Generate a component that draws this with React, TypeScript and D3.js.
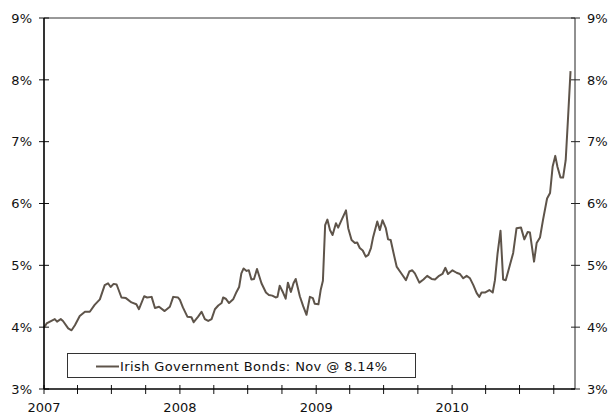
import React from "react";
import * as d3 from "d3";

const dates: string[] = [
  "2007-01-01","2007-01-08","2007-01-17","2007-01-30","2007-02-05","2007-02-15","2007-02-21","2007-03-07","2007-03-16","2007-03-25",
  "2007-04-07","2007-04-21","2007-05-04","2007-05-17","2007-05-31","2007-06-13","2007-06-22","2007-06-29","2007-07-07","2007-07-15",
  "2007-07-28","2007-08-09","2007-08-24","2007-09-06","2007-09-13","2007-09-27","2007-10-05","2007-10-17","2007-10-26","2007-11-06",
  "2007-11-21","2007-12-05","2007-12-14","2007-12-27",
  "2008-01-01","2008-01-09","2008-01-21","2008-02-01","2008-02-07","2008-02-19","2008-02-28","2008-03-08","2008-03-17","2008-03-26",
  "2008-04-04","2008-04-13","2008-04-22","2008-04-26","2008-05-03","2008-05-12","2008-05-23","2008-06-01","2008-06-08","2008-06-14",
  "2008-06-20","2008-06-28","2008-07-04","2008-07-11","2008-07-18","2008-07-26","2008-08-07","2008-08-19","2008-08-27","2008-09-05",
  "2008-09-14","2008-09-19","2008-09-25","2008-10-04","2008-10-11","2008-10-17","2008-10-25","2008-11-01","2008-11-07","2008-11-18",
  "2008-11-27","2008-12-06","2008-12-15","2008-12-23","2008-12-28",
  "2009-01-07","2009-01-13","2009-01-19","2009-01-25","2009-01-31","2009-02-07","2009-02-14","2009-02-23","2009-03-01","2009-03-10",
  "2009-03-22","2009-03-28","2009-04-06","2009-04-15","2009-04-21","2009-04-28","2009-05-06","2009-05-14","2009-05-21","2009-05-28",
  "2009-06-03","2009-06-14","2009-06-21","2009-06-28","2009-07-07","2009-07-13","2009-07-20","2009-07-28","2009-08-05","2009-08-14",
  "2009-08-21","2009-08-30","2009-09-08","2009-09-16","2009-09-23","2009-10-05","2009-10-16","2009-10-26","2009-11-07","2009-11-16",
  "2009-11-27","2009-12-06","2009-12-14","2009-12-21",
  "2010-01-02","2010-01-13","2010-01-22","2010-01-31","2010-02-09","2010-02-18","2010-02-27","2010-03-08","2010-03-15","2010-03-21",
  "2010-03-30","2010-04-11","2010-04-20","2010-04-26","2010-05-03","2010-05-11","2010-05-18","2010-05-25","2010-06-05","2010-06-14",
  "2010-06-23","2010-07-05","2010-07-14","2010-07-23","2010-07-29","2010-08-09","2010-08-16","2010-08-25","2010-09-02","2010-09-13",
  "2010-09-21","2010-09-28","2010-10-05","2010-10-11","2010-10-19","2010-10-26","2010-11-02","2010-11-08","2010-11-15",
];

const yields: number[] = [
  3.99,4.06,4.09,4.13,4.09,4.13,4.10,3.98,3.95,4.03,
  4.18,4.25,4.25,4.36,4.45,4.68,4.71,4.65,4.70,4.69,
  4.48,4.47,4.40,4.37,4.29,4.50,4.48,4.49,4.31,4.33,
  4.26,4.33,4.49,4.48,
  4.44,4.32,4.17,4.16,4.08,4.17,4.25,4.13,4.10,4.13,
  4.29,4.35,4.39,4.48,4.46,4.39,4.45,4.57,4.65,4.87,
  4.95,4.91,4.92,4.77,4.78,4.94,4.71,4.56,4.52,4.51,
  4.48,4.49,4.67,4.56,4.46,4.72,4.57,4.71,4.78,4.50,
  4.34,4.20,4.49,4.47,4.38,
  4.37,4.60,4.75,5.65,5.74,5.57,5.49,5.68,5.61,5.73,
  5.89,5.60,5.41,5.36,5.37,5.28,5.24,5.14,5.17,5.28,
  5.46,5.71,5.57,5.73,5.60,5.42,5.41,5.19,4.98,4.90,
  4.84,4.76,4.90,4.92,4.87,4.72,4.77,4.83,4.78,4.77,
  4.83,4.86,4.96,4.86,
  4.92,4.88,4.86,4.79,4.83,4.79,4.68,4.55,4.49,4.56,
  4.56,4.60,4.56,4.76,5.19,5.56,4.77,4.76,5.00,5.20,
  5.60,5.61,5.42,5.54,5.53,5.06,5.36,5.45,5.73,6.08,
  6.17,6.60,6.77,6.59,6.42,6.42,6.70,7.35,8.14,
];

const yTicks: number[] = [3, 4, 5, 6, 7, 8, 9];
const yearLabels: string[] = ["2007", "2008", "2009", "2010"];
const domainStart = "2007-01-01";
const domainEnd = "2010-11-27";
const legendText = "Irish Government Bonds: Nov @ 8.14%";

const W = 611;
const H = 415;
const M = { left: 44, right: 575, top: 18, bottom: 389 };
const FONT = "'DejaVu Sans', Verdana, sans-serif";
const LINE = "#5e544a";

export default function App() {
  const parse = d3.timeParse("%Y-%m-%d");
  const x = d3
    .scaleTime()
    .domain([parse(domainStart)!, parse(domainEnd)!])
    .range([M.left, M.right]);
  const y = d3.scaleLinear().domain([3, 9]).range([M.bottom, M.top]);

  const data = dates.map((d, i) => ({ date: parse(d)!, v: yields[i] }));
  const line = d3
    .line<{ date: Date; v: number }>()
    .x((d) => x(d.date))
    .y((d) => y(d.v));

  const quarterTicks = d3.timeMonth
    .every(3)!
    .range(parse(domainStart)!, parse(domainEnd)!);

  return (
    <div style={{ position: "absolute", left: 0, top: 0 }}>
      <svg width={W} height={H} style={{ display: "block" }} fontFamily={FONT}>
        <rect x={0} y={0} width={W} height={H} fill="#fff" />
        {/* top frame */}
        <line x1={M.left} x2={M.right} y1={M.top} y2={M.top} stroke="#333" strokeWidth={1} />
        {/* right axis */}
        <line x1={M.right} x2={M.right} y1={M.top} y2={M.bottom} stroke="#222" strokeWidth={1} />
        {yTicks.map((t) => (
          <g key={"r" + t}>
            <line x1={M.right - 4} x2={M.right + 5} y1={y(t)} y2={y(t)} stroke="#222" strokeWidth={1} />
            <text x={587} y={y(t)} dy="0.36em" fontSize={13} fill="#111">
              {t}%
            </text>
          </g>
        ))}
        {/* left axis */}
        {yTicks.map((t) => (
          <g key={"l" + t}>
            <line x1={M.left - 5} x2={M.left + 5} y1={y(t)} y2={y(t)} stroke="#111" strokeWidth={1} />
            <text x={32} y={y(t)} dy="0.36em" fontSize={13} textAnchor="end" fill="#111">
              {t}%
            </text>
          </g>
        ))}
        {/* series */}
        <path d={line(data) ?? ""} fill="none" stroke={LINE} strokeWidth={2} strokeLinejoin="round" />
        {/* legend */}
        <rect x={67.5} y={353.5} width={348} height={24} fill="#fff" stroke="#333" strokeWidth={1} />
        <line x1={96} x2={119} y1={366.5} y2={366.5} stroke={LINE} strokeWidth={2} />
        <text x={120} y={366.5} dy="0.36em" fontSize={13} fill="#111" textLength={267} lengthAdjust="spacing">
          {legendText}
        </text>
        {/* bottom axis */}
        {quarterTicks.map((d, i) => (
          <line key={"q" + i} x1={x(d)} x2={x(d)} y1={M.bottom - 4} y2={M.bottom + 5} stroke="#111" strokeWidth={1} />
        ))}
        <line x1={M.left} x2={M.right} y1={M.bottom} y2={M.bottom} stroke="#000" strokeWidth={1.6} />
        <line x1={M.left} x2={M.left} y1={M.top} y2={M.bottom} stroke="#000" strokeWidth={1.6} />
        {yearLabels.map((yr) => (
          <text key={yr} x={x(parse(yr + "-01-01")!)} y={412} fontSize={13} textAnchor="middle" fill="#111">
            {yr}
          </text>
        ))}
      </svg>
    </div>
  );
}
